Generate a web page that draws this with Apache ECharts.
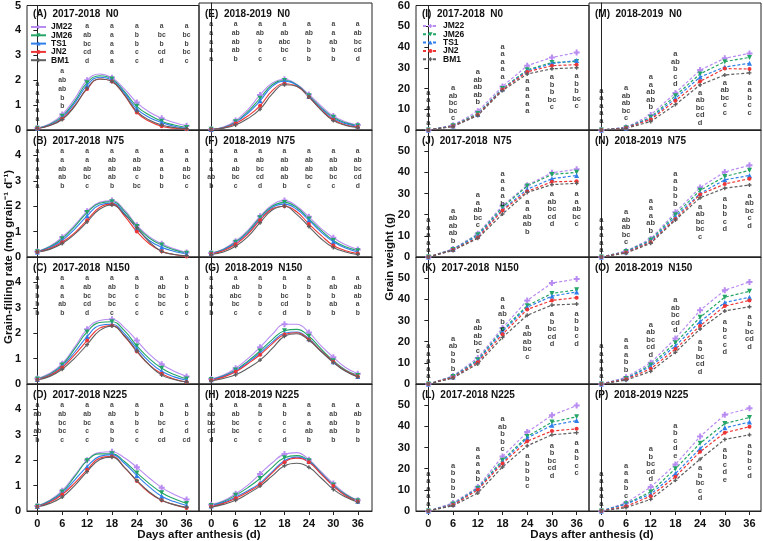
<!DOCTYPE html>
<html>
<head>
<meta charset="utf-8">
<script src="https://cdn.jsdelivr.net/npm/echarts@6/dist/echarts.min.js"></script>
<style>
html, body { margin: 0; padding: 0; background: #fff; }
#chart { width: 763px; height: 541px; }
</style>
</head>
<body>
<div id="chart"></div>
<script>
// cultivars, in legend order
const cultivars = ['JM22', 'JM26', 'TS1', 'JN2', 'BM1'];
const colors = ['#b98cf2', '#23a566', '#2f7fea', '#ee3535', '#5f5f5f'];
const days = [0, 6, 12, 18, 24, 30, 36];
const curveDays = [0, 3, 6, 9, 12, 15, 18, 21, 24, 27, 30, 33, 36];

// grain-filling rate (mg grain-1 d-1), rows JM22, JM26, TS1, JN2, BM1
const rateA = [
  [0.08, 0.25, 0.62, 1.25, 2.0, 2.25, 2.1, 1.65, 1.1, 0.72, 0.47, 0.3, 0.17],
  [0.07, 0.22, 0.55, 1.15, 1.9, 2.18, 2.05, 1.55, 0.95, 0.6, 0.35, 0.2, 0.1],
  [0.07, 0.2, 0.5, 1.08, 1.8, 2.12, 2.0, 1.5, 0.85, 0.5, 0.3, 0.15, 0.07],
  [0.06, 0.18, 0.45, 0.98, 1.65, 2.05, 1.95, 1.4, 0.7, 0.35, 0.15, 0.07, 0.03],
  [0.06, 0.18, 0.42, 0.95, 1.68, 2.05, 1.95, 1.42, 0.75, 0.4, 0.2, 0.1, 0.05]
];
const rateB = [
  [0.22, 0.42, 0.78, 1.25, 1.8, 2.15, 2.22, 1.85, 1.25, 0.8, 0.52, 0.32, 0.18],
  [0.21, 0.4, 0.72, 1.2, 1.75, 2.12, 2.18, 1.8, 1.2, 0.75, 0.47, 0.28, 0.15],
  [0.2, 0.37, 0.65, 1.1, 1.62, 2.05, 2.12, 1.72, 1.12, 0.65, 0.38, 0.22, 0.12],
  [0.2, 0.33, 0.58, 0.95, 1.45, 1.95, 2.08, 1.62, 1.0, 0.52, 0.23, 0.1, 0.02],
  [0.2, 0.3, 0.53, 0.9, 1.38, 1.88, 2.05, 1.68, 1.15, 0.6, 0.22, 0.1, 0.05]
];
const rateC = [
  [0.22, 0.42, 0.8, 1.45, 2.16, 2.5, 2.55, 2.22, 1.71, 1.18, 0.78, 0.5, 0.3],
  [0.2, 0.38, 0.75, 1.38, 2.05, 2.42, 2.45, 2.1, 1.5, 1.0, 0.62, 0.37, 0.2],
  [0.18, 0.35, 0.7, 1.25, 1.87, 2.3, 2.35, 1.98, 1.4, 0.88, 0.5, 0.28, 0.15],
  [0.17, 0.33, 0.65, 1.15, 1.71, 2.2, 2.3, 1.88, 1.28, 0.75, 0.4, 0.2, 0.08],
  [0.16, 0.3, 0.58, 1.02, 1.55, 2.1, 2.28, 1.9, 1.3, 0.75, 0.35, 0.18, 0.08]
];
const rateD = [
  [0.2, 0.42, 0.8, 1.4, 2.0, 2.3, 2.33, 2.1, 1.72, 1.3, 0.92, 0.65, 0.45],
  [0.19, 0.4, 0.75, 1.35, 1.98, 2.25, 2.25, 1.95, 1.5, 1.08, 0.72, 0.48, 0.3],
  [0.18, 0.37, 0.7, 1.22, 1.75, 2.15, 2.22, 1.88, 1.4, 0.95, 0.58, 0.37, 0.22],
  [0.17, 0.34, 0.65, 1.1, 1.62, 2.08, 2.15, 1.72, 1.18, 0.72, 0.42, 0.25, 0.12],
  [0.16, 0.3, 0.55, 1.0, 1.55, 2.02, 2.12, 1.72, 1.2, 0.75, 0.42, 0.25, 0.15]
];
const rateE = [
  [0.03, 0.12, 0.37, 0.8, 1.38, 1.85, 2.0, 1.8, 1.4, 0.95, 0.55, 0.32, 0.2],
  [0.03, 0.1, 0.32, 0.72, 1.25, 1.78, 1.95, 1.78, 1.35, 0.88, 0.5, 0.28, 0.17],
  [0.02, 0.09, 0.3, 0.66, 1.15, 1.72, 1.92, 1.76, 1.32, 0.85, 0.45, 0.25, 0.15],
  [0.02, 0.08, 0.26, 0.55, 0.95, 1.55, 1.82, 1.72, 1.3, 0.8, 0.4, 0.2, 0.12],
  [0.02, 0.07, 0.2, 0.45, 0.82, 1.42, 1.78, 1.72, 1.3, 0.78, 0.37, 0.18, 0.1]
];
const rateF = [
  [0.16, 0.32, 0.62, 1.05, 1.6, 2.05, 2.22, 2.0, 1.58, 1.12, 0.76, 0.48, 0.3],
  [0.15, 0.3, 0.58, 1.0, 1.55, 2.0, 2.15, 1.95, 1.5, 1.05, 0.65, 0.4, 0.25],
  [0.14, 0.28, 0.55, 0.95, 1.5, 1.95, 2.08, 1.88, 1.45, 0.98, 0.6, 0.35, 0.2],
  [0.12, 0.25, 0.5, 0.9, 1.45, 1.9, 2.0, 1.78, 1.3, 0.85, 0.45, 0.25, 0.14],
  [0.1, 0.2, 0.42, 0.8, 1.35, 1.85, 2.0, 1.68, 1.2, 0.72, 0.37, 0.2, 0.1]
];
const rateG = [
  [0.2, 0.35, 0.62, 1.0, 1.45, 1.95, 2.35, 2.35, 2.03, 1.5, 1.05, 0.65, 0.4],
  [0.18, 0.32, 0.55, 0.9, 1.3, 1.75, 2.1, 2.15, 1.88, 1.38, 0.92, 0.55, 0.33],
  [0.17, 0.3, 0.52, 0.85, 1.22, 1.65, 2.0, 2.05, 1.78, 1.3, 0.88, 0.52, 0.3],
  [0.15, 0.27, 0.48, 0.8, 1.15, 1.58, 1.95, 2.02, 1.75, 1.3, 0.88, 0.52, 0.3],
  [0.12, 0.22, 0.36, 0.62, 0.94, 1.4, 1.88, 1.98, 1.72, 1.28, 0.85, 0.5, 0.28]
];
const rateH = [
  [0.25, 0.4, 0.68, 1.02, 1.46, 1.9, 2.24, 2.3, 2.02, 1.55, 1.08, 0.68, 0.42],
  [0.22, 0.37, 0.62, 0.92, 1.28, 1.72, 2.1, 2.18, 1.98, 1.5, 1.02, 0.65, 0.4],
  [0.2, 0.34, 0.55, 0.8, 1.1, 1.55, 1.98, 2.12, 1.95, 1.48, 1.0, 0.62, 0.38],
  [0.18, 0.3, 0.5, 0.75, 1.05, 1.5, 1.92, 2.08, 1.92, 1.45, 0.98, 0.6, 0.37],
  [0.15, 0.26, 0.42, 0.68, 0.98, 1.38, 1.78, 1.88, 1.72, 1.3, 0.85, 0.55, 0.35]
];

// grain weight (g), rows JM22, JM26, TS1, JN2, BM1
const weightI = [
  [0, 2.3, 9, 21, 31, 35, 37.3],
  [0, 2, 8, 20, 29, 32.5, 33],
  [0, 1.9, 7.5, 19.8, 28.5, 32, 33.5],
  [0, 1.8, 7.3, 19.5, 28, 31, 31.5],
  [0, 1.7, 7, 19, 27, 29.5, 30]
];
const weightJ = [
  [0, 3.8, 11, 24.2, 33.9, 39.8, 41.4],
  [0, 3.6, 10.5, 23.5, 33.5, 39, 40],
  [0, 3.5, 10, 22.5, 32, 37, 38.5],
  [0, 3.3, 9.2, 22, 31, 35.5, 35.8],
  [0, 3.1, 8.8, 20.3, 30.5, 34.2, 34.8]
];
const weightK = [
  [0, 3.8, 12.3, 26.5, 39.5, 47.7, 49.6],
  [0, 3.5, 11.5, 25.5, 37, 42.8, 44.5],
  [0, 3.3, 11, 24.8, 36.3, 41.5, 43.5],
  [0, 3.1, 10.3, 23.5, 35.2, 39.5, 40.8],
  [0, 2.8, 9.5, 22, 32.5, 37.3, 37.8]
];
const weightL = [
  [0, 3.8, 11.3, 25.8, 37.3, 45.2, 49.8],
  [0, 3.3, 10.8, 24, 35.2, 42, 44.5],
  [0, 3.1, 10.5, 23.2, 34.5, 40.5, 42.7],
  [0, 2.8, 10, 22.5, 33, 37.8, 38.8],
  [0, 2.5, 8.5, 20.8, 30.8, 36, 37]
];
const weightM = [
  [0, 1.2, 7.1, 17.5, 28.3, 33.9, 36.2],
  [0, 1.1, 6, 16.2, 26.5, 32.3, 34.3],
  [0, 1, 5.5, 15, 25, 29.8, 31.5],
  [0, 0.9, 5, 13.8, 23, 29, 28.8],
  [0, 0.8, 4, 12, 21.3, 26, 27]
];
const weightN = [
  [0, 2.8, 8.5, 21.1, 32.8, 40.2, 43.3],
  [0, 2.6, 8, 20, 31.5, 38, 41],
  [0, 2.4, 7.5, 19, 30, 36.5, 38.5],
  [0, 2.1, 7, 18, 29.5, 34.5, 37],
  [0, 1.8, 6.5, 17.5, 28, 32.5, 34]
];
const weightO = [
  [0, 3.2, 10, 21.5, 34.8, 44.3, 48.2],
  [0, 2.6, 9, 19.5, 31.5, 41, 43.8],
  [0, 2.5, 8.3, 18, 29.5, 38.5, 41],
  [0, 2.2, 7.2, 16.5, 27.5, 36.8, 39.5],
  [0, 1.8, 6, 15, 26, 34.5, 36.5]
];
const weightP = [
  [0, 3.8, 11.3, 22, 35.2, 45.5, 48.5],
  [0, 3.4, 9, 20, 32, 41.3, 44.2],
  [0, 3.2, 8, 17.7, 29.5, 39.3, 42],
  [0, 2.2, 7, 16.2, 28, 37, 39.8],
  [0, 1.6, 5.5, 14.5, 24.5, 33.8, 36]
];

// significance letters, one stack per sampling day (top to bottom)
const letA = ['a a a a a', 'a ab ab b b', 'a ab bc cd d', 'a a a a a', 'a b b c c', 'a bc b cd d', 'a bc b bc c'];
const letB = ['a a a a a', 'a a ab ab b', 'a a ab bc c', 'a ab ab ab b', 'a ab ab c bc', 'a a a b b', 'a a ab bc c'];
const letC = ['a b b b b', 'a a a ab b', 'a ab bc cd d', 'a ab bc bc c', 'a b c c c', 'a ab bc bc c', 'a b b c c'];
const letD = ['a ab a ab b', 'a ab bc bc c', 'a ab bc c c', 'a ab a b b', 'a b b c c', 'a b bc d cd', 'a b c d cd'];
const letE = ['a a a a a', 'a ab ab ab b', 'a ab b c c', 'a ab abc bc c', 'a ab b b b', 'a a ab b b', 'a ab bc cd d'];
const letF = ['a a a ab b', 'a a ab bc c', 'a ab bc cd d', 'a ab ab ab b', 'a ab ab bc c', 'a ab ab bc c', 'a ab bc cd d'];
const letG = ['a a a b b', 'a ab abc bc c', 'a b b b c', 'a b bc cd d', 'a b b b b', 'a ab b ab b', 'a ab ab a b'];
const letH = ['a ab bc cd d', 'a ab bc bc c', 'a b c c c', 'a b c c d', 'a a a ab b', 'a ab ab ab b', 'a ab b b b'];
const letI = ['a a a a a', 'a ab bc bc c', 'a ab ab ab b', 'a a a a a', 'a a a a a', 'a b b bc c', 'a b b bc c'];
const letJ = ['a a a a a', 'a ab ab ab b', 'a a ab bc c', 'a a a a b', 'a a ab ab b', 'a ab bc cd d', 'a a ab bc c'];
const letK = ['a a a a a', 'a ab b b b', 'a ab ab bc c', 'a a ab b c', 'a ab ab bc c', 'a b bc cd d', 'a b b c d'];
const letL = ['a a a a a', 'a b b b b', 'a a a a b', 'a ab b b c', 'a b b b c', 'a b bc cd d', 'a a b c c'];
const letM = ['a a a a a', 'a ab ab bc c', 'a a ab ab b', 'a ab b c d', 'a ab bc cd d', 'a ab bc c c', 'a a b c c'];
const letN = ['a a a a a', 'a ab ab bc c', 'a a a ab b', 'a a b b b', 'a ab bc bc c', 'a b b c d', 'a ab bc c d'];
const letO = ['a a a a a', 'a a a b b', 'a ab bc cd d', 'a ab bc cd d', 'a b bc cd d', 'a b c c d', 'a b bc cd d'];
const letP = ['a a a a a', 'a a a b c', 'a b bc cd d', 'a b c d e', 'a b bc c d', 'a b c d e', 'a b b c d'];

// height (axis units) of the first letter of each stack
const letTop = [4.17, 4.17, 4.17, 4.17, 4.17, 4.17, 4.17];
const letYA = [1.85, 2.36, 4.17, 4.17, 4.17, 4.17, 4.17];
const letYI = [18.1, 20.2, 27.9, 40.2, 23.6, 25.5, 26];
const letYJ = [17.5, 21.9, 29.2, 39.4, 26.1, 29.7, 29.7];
const letYK = [17.8, 21.4, 29.9, 40, 27.1, 33, 33.3];
const letYL = [17.6, 21.5, 29.3, 43.3, 25.8, 30.8, 32.1];
const letYM = [18.6, 19.7, 24.9, 35.9, 17.6, 22.3, 22.3];
const letYN = [17.5, 21.1, 26.6, 39.4, 23.8, 27.4, 28.9];
const letYO = [17.8, 20.9, 28, 39.5, 20.1, 29.1, 31.7];
const letYP = [17.6, 21.5, 29.3, 40.2, 20.2, 29, 30.8];

const panels = [
  { title: '(A)  2017-2018  N0', col: 0, row: 0, rate: rateA, let: letA, letY: letYA },
  { title: '(B)  2017-2018  N75', col: 0, row: 1, rate: rateB, let: letB, letY: letTop },
  { title: '(C)  2017-2018  N150', col: 0, row: 2, rate: rateC, let: letC, letY: letTop },
  { title: '(D)  2017-2018 N225', col: 0, row: 3, rate: rateD, let: letD, letY: letTop },
  { title: '(E)  2018-2019  N0', col: 1, row: 0, rate: rateE, let: letE, letY: letTop },
  { title: '(F)  2018-2019  N75', col: 1, row: 1, rate: rateF, let: letF, letY: letTop },
  { title: '(G)  2018-2019  N150', col: 1, row: 2, rate: rateG, let: letG, letY: letTop },
  { title: '(H)  2018-2019 N225', col: 1, row: 3, rate: rateH, let: letH, letY: letTop },
  { title: '(I)  2017-2018  N0', col: 2, row: 0, weight: weightI, let: letI, letY: letYI },
  { title: '(J)  2017-2018  N75', col: 2, row: 1, weight: weightJ, let: letJ, letY: letYJ },
  { title: '(K)  2017-2018  N150', col: 2, row: 2, weight: weightK, let: letK, letY: letYK },
  { title: '(L)  2017-2018 N225', col: 2, row: 3, weight: weightL, let: letL, letY: letYL },
  { title: '(M)  2018-2019  N0', col: 3, row: 0, weight: weightM, let: letM, letY: letYM },
  { title: '(N)  2018-2019  N75', col: 3, row: 1, weight: weightN, let: letN, letY: letYN },
  { title: '(O)  2018-2019  N150', col: 3, row: 2, weight: weightO, let: letO, letY: letYO },
  { title: '(P)  2018-2019 N225', col: 3, row: 3, weight: weightP, let: letP, letY: letYP }
];

const colLeft = [27, 199, 416, 589];
const colWidth = [172, 173, 173, 172];
const rowTop = [3, 130, 257, 384];
const rowH = 127;
const xRange = [[-2.5, 39], [-3, 39.5], [-3, 39], [-3, 38.8]];

const plus = 'path://M2,0H4V2H6V4H4V6H2V4H0V2H2Z';
const symbols = [plus, 'triangle', 'triangle', 'circle', plus];
const symbolSizes = [6, 5, 5, 4, 4];
const symbolRotate = [0, 180, 0, 0, 0];
const font = 'Arial, "Liberation Sans", sans-serif';

const chart = echarts.init(document.getElementById('chart'));

let grids = [], xAxes = [], yAxes = [], series = [], graphics = [];

panels.forEach((p, gi) => {
  const isRate = !!p.rate;
  const firstCol = p.col === 0 || p.col === 2;
  const bottom = p.row === 3;
  grids.push({
    left: colLeft[p.col], top: rowTop[p.row], width: colWidth[p.col], height: rowH,
    show: true, borderColor: '#222', borderWidth: 1, containLabel: false
  });
  xAxes.push({
    type: 'value', gridIndex: gi, min: xRange[p.col][0], max: xRange[p.col][1],
    splitLine: { show: false },
    axisLine: { show: true, lineStyle: { color: '#222' } },
    axisTick: { show: bottom, length: 4, inside: false, customValues: days, lineStyle: { color: '#222' } },
    axisLabel: {
      show: bottom, customValues: days, margin: 7,
      fontSize: 11, fontWeight: 'bold', color: '#111', fontFamily: font
    }
  });
  yAxes.push({
    type: 'value', gridIndex: gi, min: 0, max: isRate ? 5 : 60, interval: isRate ? 1 : 10,
    splitLine: { show: false },
    axisLine: { show: true, lineStyle: { color: '#222' } },
    axisTick: { show: firstCol, length: 4, lineStyle: { color: '#222' } },
    axisLabel: {
      show: firstCol, showMaxLabel: p.row === 0, margin: 6,
      fontSize: 11, fontWeight: 'bold', color: '#111', fontFamily: font
    }
  });

  if (isRate) {
    p.rate.forEach((vals, k) => {
      series.push({
        name: cultivars[k], type: 'line', xAxisIndex: gi, yAxisIndex: gi,
        smooth: 0.45, showAllSymbol: true,
        symbol: symbols[k], symbolSize: symbolSizes[k], symbolRotate: symbolRotate[k],
        color: colors[k], lineStyle: { width: 1.1 },
        data: curveDays.map((d, i) => i % 2 === 0 ? [d, vals[i]] : { value: [d, vals[i]], symbol: 'none' }),
        z: 3
      });
    });
  } else {
    p.weight.forEach((vals, k) => {
      series.push({
        name: cultivars[k], type: 'line', xAxisIndex: gi, yAxisIndex: gi,
        showAllSymbol: true,
        symbol: symbols[k], symbolSize: symbolSizes[k], symbolRotate: symbolRotate[k],
        color: colors[k], lineStyle: { width: 1.2, type: [3, 2] },
        data: days.map((d, i) => [d, vals[i]]),
        z: 3
      });
    });
  }

  const lh = isRate ? 8.8 : 7.5;
  series.push({
    type: 'scatter', xAxisIndex: gi, yAxisIndex: gi, silent: true,
    symbolSize: 1, itemStyle: { color: 'rgba(0,0,0,0)' }, z: 6,
    label: {
      show: true, position: 'inside', align: 'center', verticalAlign: 'top',
      offset: [0, -lh / 2], lineHeight: lh,
      fontSize: isRate ? 6.8 : 7.5, fontWeight: 'bold', color: '#111', fontFamily: font,
      formatter: (q) => q.data.txt
    },
    data: days.map((d, i) => ({ value: [d, p.letY[i]], txt: p.let[i].split(' ').join('\n') }))
  });

  graphics.push({
    type: 'text', left: colLeft[p.col] + 6, top: rowTop[p.row] + 6,
    style: { text: p.title, fontSize: 10, fontWeight: 'bold', fill: '#111', fontFamily: font }
  });
});

// axis titles
graphics.push(
  { type: 'text', x: 9, y: 257, rotation: Math.PI / 2,
    style: { text: 'Grain-filling rate (mg grain\u207B\u00B9 d\u207B\u00B9)', fontSize: 11.5, fontWeight: 'bold',
      fill: '#111', fontFamily: font, align: 'center', verticalAlign: 'middle' } },
  { type: 'text', x: 390, y: 257, rotation: Math.PI / 2,
    style: { text: 'Grain weight (g)', fontSize: 11.5, fontWeight: 'bold',
      fill: '#111', fontFamily: font, align: 'center', verticalAlign: 'middle' } },
  { type: 'text', x: 199, y: 535,
    style: { text: 'Days after anthesis (d)', fontSize: 11.5, fontWeight: 'bold',
      fill: '#111', fontFamily: font, align: 'center', verticalAlign: 'middle' } },
  { type: 'text', x: 592, y: 535,
    style: { text: 'Days after anthesis (d)', fontSize: 11.5, fontWeight: 'bold',
      fill: '#111', fontFamily: font, align: 'center', verticalAlign: 'middle' } }
);

const legendBase = {
  orient: 'vertical', itemWidth: 15, itemHeight: 5, itemGap: -0.7, padding: 0,
  textStyle: { fontSize: 8.5, fontWeight: 'bold', color: '#111', fontFamily: font },
  selectedMode: false
};

chart.setOption({
  animation: false,
  backgroundColor: '#fff',
  grid: grids,
  xAxis: xAxes,
  yAxis: yAxes,
  legend: [
    Object.assign({ left: 30, top: 22.5, data: cultivars }, legendBase),
    Object.assign({ left: 422, top: 21.5,
      data: cultivars.map((c) => ({ name: c, lineStyle: { type: [3, 2] } })) }, legendBase)
  ],
  graphic: graphics,
  series: series
});
</script>
</body>
</html>
